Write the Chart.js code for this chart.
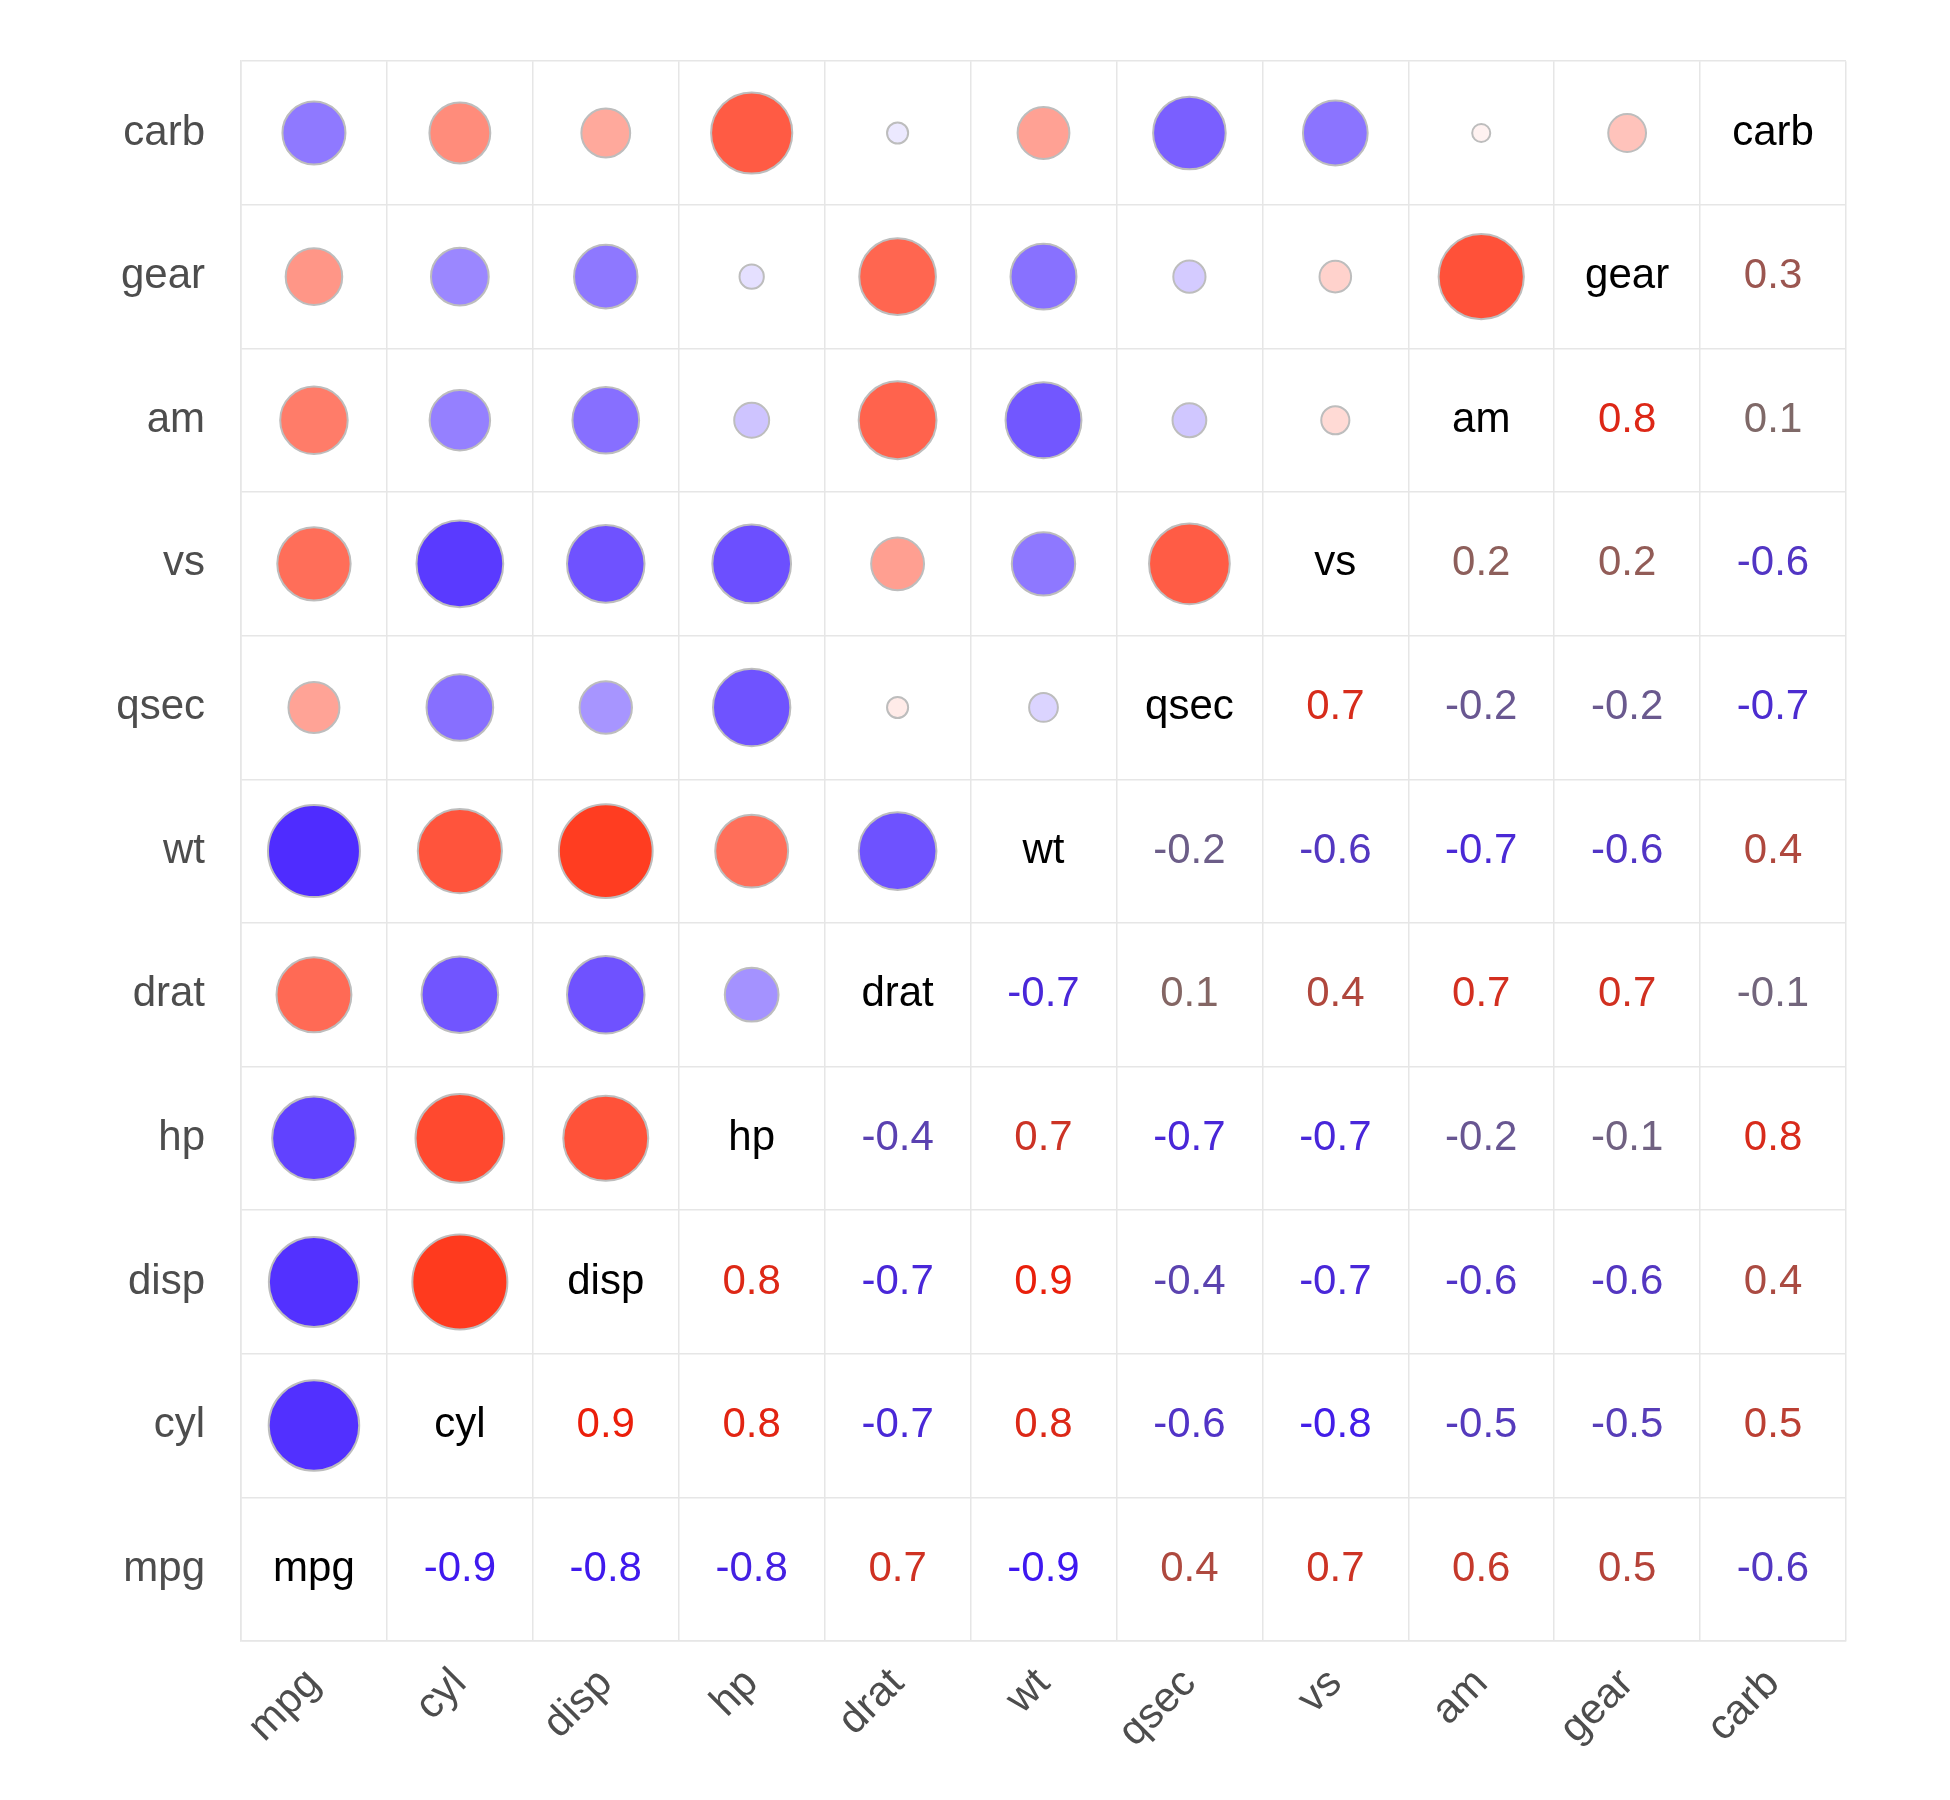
<!DOCTYPE html>
<html>
<head>
<meta charset="utf-8">
<script src="https://cdn.jsdelivr.net/npm/chart.js@4.4.1/dist/chart.umd.min.js"></script>
<style>
  html, body { margin: 0; padding: 0; background: #fff; }
  #wrap { width: 1950px; height: 1800px; }
</style>
</head>
<body>
<div id="wrap"><canvas id="c"></canvas></div>
<script>
// mtcars correlation matrix
const vars = ["mpg", "cyl", "disp", "hp", "drat", "wt", "qsec", "vs", "am", "gear", "carb"];
const mpg  = [1, -0.852, -0.848, -0.776, 0.681, -0.868, 0.419, 0.664, 0.600, 0.480, -0.551];
const cyl  = [-0.852, 1, 0.902, 0.832, -0.700, 0.782, -0.591, -0.811, -0.523, -0.493, 0.527];
const disp = [-0.848, 0.902, 1, 0.791, -0.710, 0.888, -0.434, -0.710, -0.591, -0.556, 0.395];
const hp   = [-0.776, 0.832, 0.791, 1, -0.449, 0.659, -0.708, -0.723, -0.243, -0.126, 0.750];
const drat = [0.681, -0.700, -0.710, -0.449, 1, -0.712, 0.091, 0.440, 0.713, 0.700, -0.091];
const wt   = [-0.868, 0.782, 0.888, 0.659, -0.712, 1, -0.175, -0.555, -0.692, -0.583, 0.428];
const qsec = [0.419, -0.591, -0.434, -0.708, 0.091, -0.175, 1, 0.745, -0.230, -0.213, -0.656];
const vs   = [0.664, -0.811, -0.710, -0.723, 0.440, -0.555, 0.745, 1, 0.168, 0.206, -0.570];
const am   = [0.600, -0.523, -0.591, -0.243, 0.713, -0.692, -0.230, 0.168, 1, 0.794, 0.058];
const gear = [0.480, -0.493, -0.556, -0.126, 0.700, -0.583, -0.213, 0.206, 0.794, 1, 0.274];
const carb = [-0.551, 0.527, 0.395, 0.750, -0.091, 0.428, -0.656, -0.570, 0.058, 0.274, 1];
const matrix = [mpg, cyl, disp, hp, drat, wt, qsec, vs, am, gear, carb];

const mix = (a, b, t) => a.map((v, i) => Math.round(v + (b[i] - v) * t));
const rgb = (c) => `rgb(${c[0]},${c[1]},${c[2]})`;
const RED = [255, 58, 30], BLUE = [72, 36, 255];
function fillColor(v) {
  return rgb(mix([255, 255, 255], v >= 0 ? RED : BLUE, Math.min(1, Math.abs(v) / 0.9)));
}
function textColor(v) {
  return rgb(mix([120, 110, 110], v >= 0 ? [235, 30, 10] : [60, 20, 245], Math.min(1, Math.abs(v) / 0.9)));
}

// circles in lower triangle: column i, row j with i < j
const points = [];
vars.forEach((cx, i) => {
  vars.forEach((ry, j) => {
    if (i < j) points.push({ x: cx, y: ry, v: matrix[i][j], r: 6.4 + 45.6 * Math.abs(matrix[i][j]) });
  });
});

const textPlugin = {
  id: "cellText",
  afterDatasetsDraw(chart) {
    const { ctx, scales } = chart;
    ctx.save();
    ctx.textAlign = "center";
    ctx.textBaseline = "middle";
    ctx.font = '42px "Liberation Sans", Arial, sans-serif';
    vars.forEach((cx, i) => {
      vars.forEach((ry, j) => {
        if (i < j) return;
        const x = scales.x.getPixelForValue(scales.x.getLabels().indexOf(cx));
        const y = scales.y.getPixelForValue(scales.y.getLabels().indexOf(ry));
        if (i === j) {
          ctx.fillStyle = "#000";
          ctx.fillText(cx, x, y);
        } else {
          const v = matrix[i][j];
          ctx.fillStyle = textColor(v);
          ctx.fillText(v.toFixed(1), x, y);
        }
      });
    });
    ctx.restore();
  }
};

const gridStyle = { offset: true, color: "#e6e6e6", lineWidth: 1.5, drawTicks: false };
const tickFont = { family: '"Liberation Sans", Arial, sans-serif', size: 42 };

new Chart(document.getElementById("c"), {
  type: "bubble",
  data: {
    datasets: [{
      data: points,
      backgroundColor: points.map((p) => fillColor(p.v)),
      borderColor: "#bdbdbd",
      borderWidth: 2,
    }],
  },
  options: {
    responsive: true,
    maintainAspectRatio: false,
    animation: false,
    layout: { padding: { top: 37, right: 104, left: 0, bottom: 0 } },
    plugins: { legend: { display: false }, tooltip: { enabled: false } },
    scales: {
      x: {
        type: "category",
        labels: vars,
        offset: true,
        grid: gridStyle,
        border: { color: "#e6e6e6", width: 1.5 },
        ticks: { color: "#4d4d4d", font: tickFont, minRotation: 45, maxRotation: 45, padding: 18 },
        afterFit: (s) => { s.height = 159; },
      },
      y: {
        type: "category",
        labels: vars.slice().reverse(),
        offset: true,
        grid: gridStyle,
        border: { color: "#e6e6e6", width: 1.5 },
        ticks: { color: "#4d4d4d", font: tickFont, padding: 36 },
        afterFit: (s) => { s.width = 241; },
      },
    },
  },
  plugins: [textPlugin],
});
</script>
</body>
</html>
